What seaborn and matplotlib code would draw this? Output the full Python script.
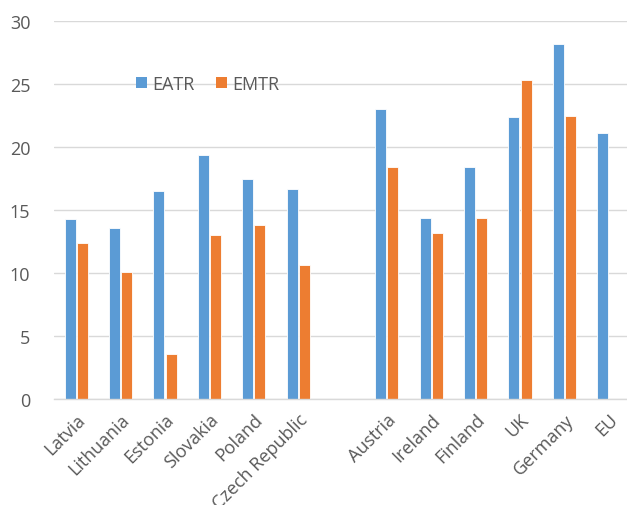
import matplotlib
matplotlib.use("Agg")
import matplotlib.pyplot as plt
import seaborn as sns
import pandas as pd
import numpy as np
from matplotlib.patches import Patch

countries = ["Latvia", "Lithuania", "Estonia", "Slovakia", "Poland", "Czech Republic", " ",
             "Austria", "Ireland", "Finland", "UK", "Germany", "EU"]
eatr = [14.3, 13.6, 16.5, 19.4, 17.5, 16.7, np.nan, 23.0, 14.4, 18.4, 22.4, 28.2, 21.1]
emtr = [12.4, 10.1, 3.6, 13.0, 13.8, 10.6, np.nan, 18.4, 13.2, 14.4, 25.3, 22.5, np.nan]
series = ["EATR", "EMTR"]
colors = ["#5B9BD5", "#ED7D31"]

df = pd.DataFrame({
    "country": countries * 2,
    "value": eatr + emtr,
    "series": [series[0]] * len(countries) + [series[1]] * len(countries),
})

sns.set_style("white")
plt.rcParams["font.family"] = ["Open Sans", "DejaVu Sans"]

fig = plt.figure(figsize=(6.27, 5.06), dpi=100)
ax = fig.add_axes([54 / 627, 106 / 506, 1 - 54 / 627, 378 / 506])

sns.barplot(data=df, x="country", y="value", hue="series", order=countries,
            hue_order=series, palette=colors, saturation=1, width=0.55, gap=0.1,
            edgecolor="white", linewidth=0.6, ax=ax, legend=False)

ax.set_ylim(0, 30)
ax.set_xlim(-0.5, len(countries) - 0.5 - 0.09)
ax.set_yticks([0, 5, 10, 15, 20, 25, 30])
ax.yaxis.grid(True, color="#D9D9D9", linewidth=1)
ax.set_axisbelow(True)
for s in ["top", "right", "left"]:
    ax.spines[s].set_visible(False)
ax.spines["bottom"].set_color("#D9D9D9")
ax.spines["bottom"].set_linewidth(1)
ax.set_xlabel("")
ax.set_ylabel("")
ax.tick_params(axis="both", length=0, labelcolor="#595959", labelsize=13)
ax.tick_params(axis="y", pad=17)
ax.set_xticks(range(len(countries)))
ax.set_xticklabels(countries, rotation=45, ha="right", rotation_mode="anchor")
ax.tick_params(axis="x", pad=8)

handles = [Patch(facecolor=c, edgecolor="none") for c in colors]
ax.legend(handles, series, loc="center left", bbox_to_anchor=(0.115, 0.833),
          ncol=2, frameon=False, fontsize=13, labelcolor="#595959",
          handlelength=0.6, handleheight=0.6, handletextpad=0.3, columnspacing=1.2)

fig.savefig("out.png", dpi=100)
